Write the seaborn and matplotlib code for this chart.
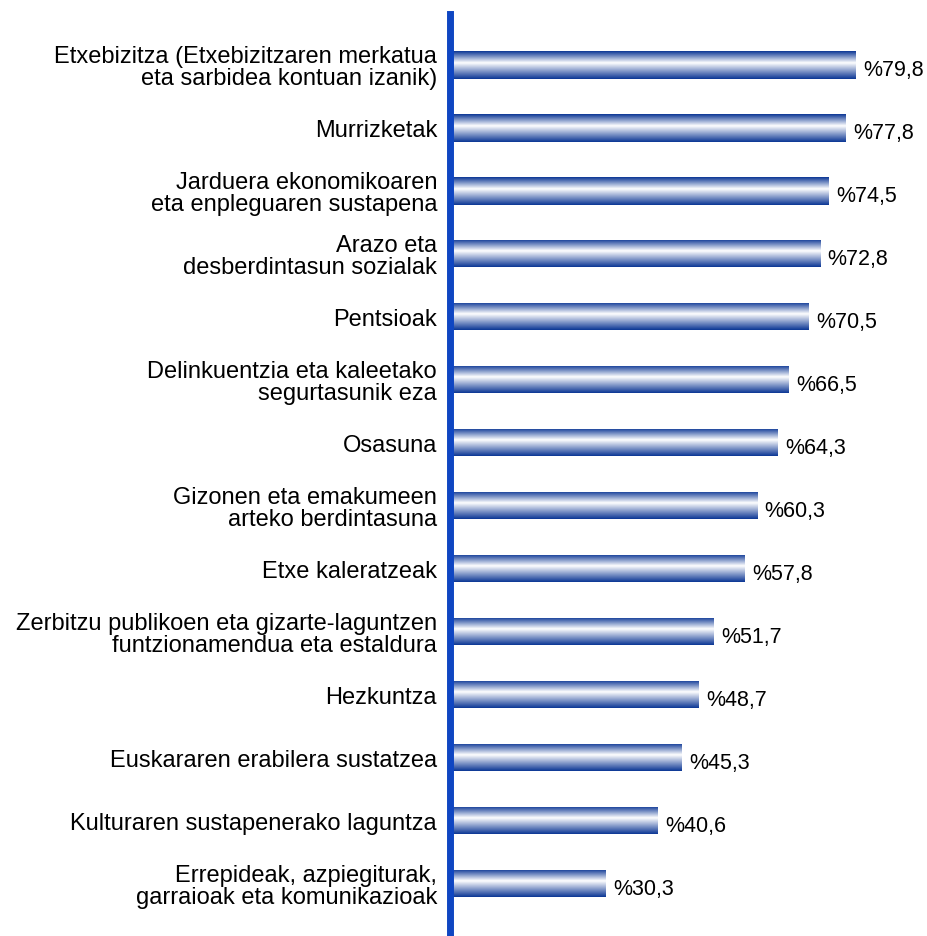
import matplotlib
matplotlib.use("Agg")
import matplotlib.pyplot as plt
import seaborn as sns
import numpy as np
import pandas as pd
from matplotlib.colors import LinearSegmentedColormap

sns.set_style("white")
plt.rcParams['font.family'] = ['Liberation Sans', 'DejaVu Sans']

# data
categories = [
    "Etxebizitza (Etxebizitzaren merkatua\neta sarbidea kontuan izanik)",
    "Murrizketak",
    "Jarduera ekonomikoaren\neta enpleguaren sustapena",
    "Arazo eta\ndesberdintasun sozialak",
    "Pentsioak",
    "Delinkuentzia eta kaleetako\nsegurtasunik eza",
    "Osasuna",
    "Gizonen eta emakumeen\narteko berdintasuna",
    "Etxe kaleratzeak",
    "Zerbitzu publikoen eta gizarte-laguntzen\nfuntzionamendua eta estaldura",
    "Hezkuntza",
    "Euskararen erabilera sustatzea",
    "Kulturaren sustapenerako laguntza",
    "Errepideak, azpiegiturak,\ngarraioak eta komunikazioak",
]
values = [79.8, 77.8, 74.5, 72.8, 70.5, 66.5, 64.3, 60.3, 57.8, 51.7, 48.7, 45.3, 40.6, 30.3]
value_labels = ["%" + f"{v:.1f}".replace(".", ",") for v in values]

df = pd.DataFrame({"cat": categories, "val": values})

fig = plt.figure(figsize=(9.28, 9.37), dpi=100)
ax = fig.add_axes([453 / 928, 0.0, 1 - 453 / 928, 1 - 15 / 937])

sns.barplot(data=df, x="val", y="cat", orient="h", width=0.43,
            color="#1040a8", ax=ax)

# gradient fill for each bar
cmap = LinearSegmentedColormap.from_list(
    "bar", [(0.0, "#0a3594"), (0.42, "#ffffff"), (1.0, "#0a3594")])
grad = np.linspace(0, 1, 256).reshape(-1, 1)
for p in ax.patches:
    x0, y0 = p.get_x(), p.get_y()
    w, h = p.get_width(), p.get_height()
    p.set_facecolor("none")
    p.set_edgecolor("none")
    im = ax.imshow(grad, cmap=cmap, aspect="auto", interpolation="bilinear",
                   extent=[x0, x0 + w, y0 + h, y0], zorder=2)
    im.set_clip_path(p)

for i, (v, lab) in enumerate(zip(values, value_labels)):
    ax.text(v + 1.5, i + 0.07, lab, va="center", ha="left", fontsize=15.5,
            color="black")

# category labels drawn as text so the line spacing can be tightened
ax.set_yticks(range(len(categories)))
ax.set_yticklabels([])
for i, cat in enumerate(categories):
    ax.annotate(cat, xy=(0, i), xycoords=("axes fraction", "data"),
                xytext=(-11.5, -1.5), textcoords="offset points",
                ha="right", va="center", multialignment="right",
                fontsize=17, linespacing=0.97, color="black")

ax.set_xlim(0, 94.2)
ax.set_ylim(13.83, -0.81)
ax.set_xlabel("")
ax.set_ylabel("")
ax.set_xticks([])
ax.tick_params(axis="y", length=0)
for s in ["top", "right", "bottom"]:
    ax.spines[s].set_visible(False)
ax.spines["left"].set_color("#0f46c2")
ax.spines["left"].set_linewidth(5)
ax.spines["left"].set_position(("outward", 2.5))

fig.savefig("out.png", dpi=100)
